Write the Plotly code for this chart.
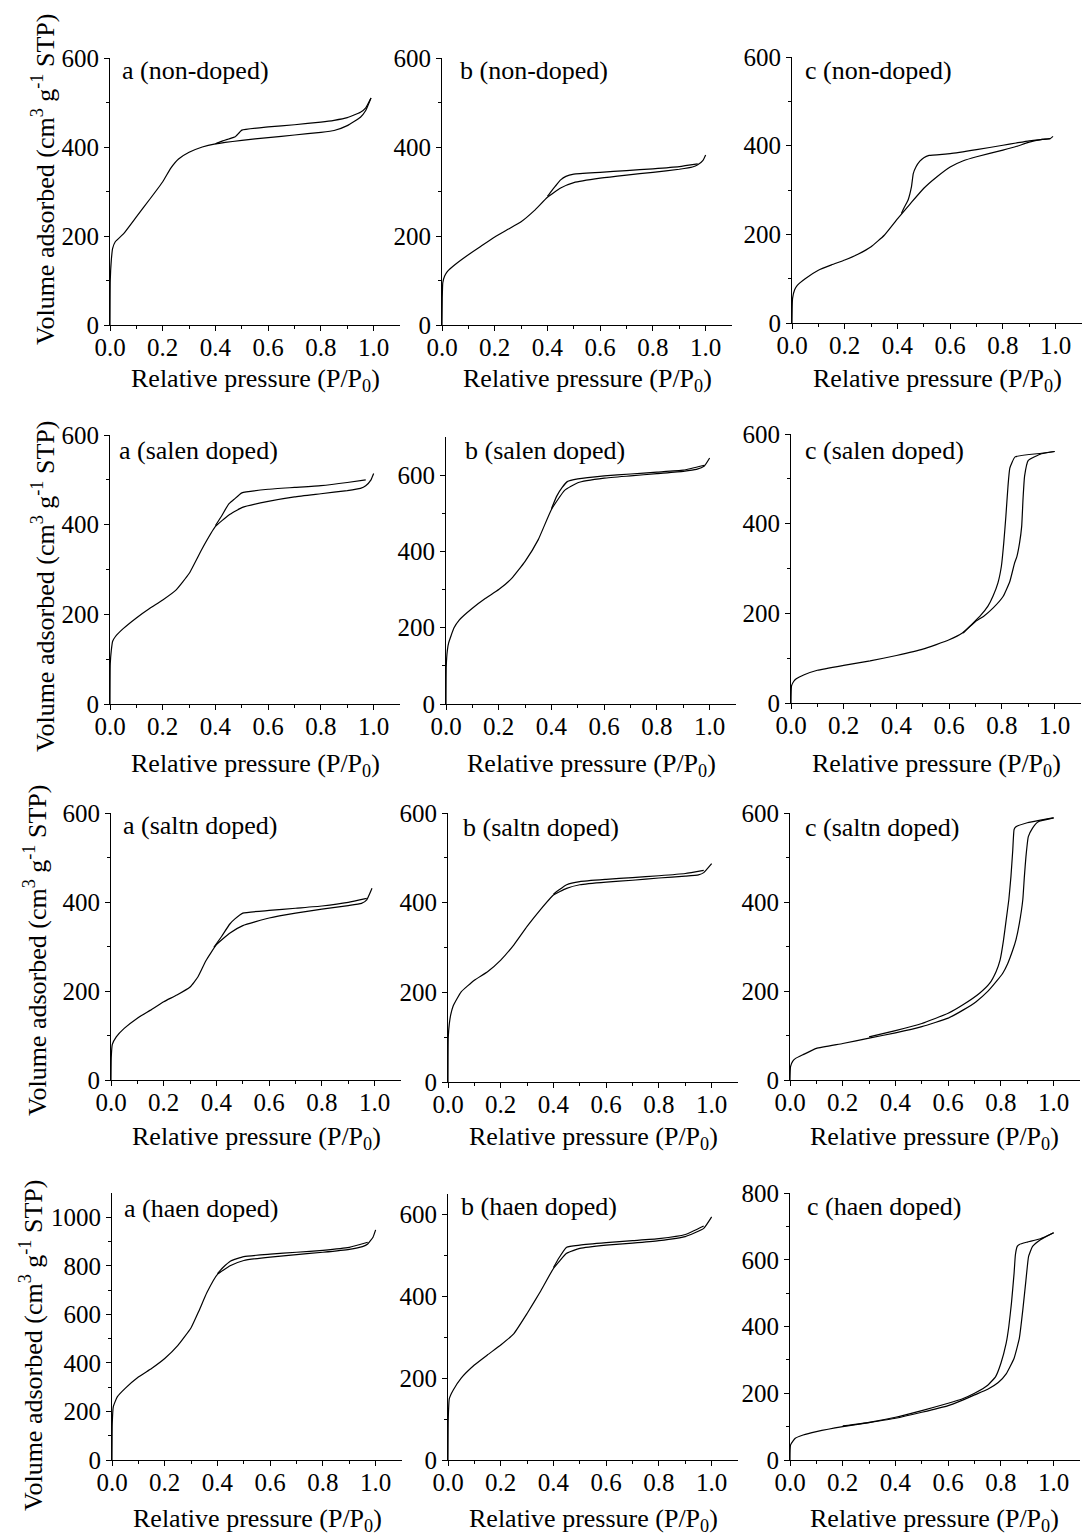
import plotly.graph_objects as go

# ---------------- N2 sorption isotherms (relative pressure vs volume adsorbed) ----------------
# Row 1: non-doped
A_NON_ADS_P = [0, 0.001, 0.005, 0.01, 0.02, 0.05, 0.1, 0.15, 0.2, 0.23, 0.26, 0.3, 0.35, 0.4, 0.5, 0.6, 0.7, 0.8, 0.85, 0.9, 0.95, 0.97, 0.99]
A_NON_ADS_V = [0, 100, 146, 172, 187, 204, 243, 282, 322, 352, 373, 388, 400, 407, 415, 421, 427, 433, 437, 448, 467, 482, 510]
A_NON_DES_P = [0.99, 0.97, 0.95, 0.9, 0.85, 0.8, 0.7, 0.6, 0.5, 0.49, 0.475, 0.45, 0.42, 0.4]
A_NON_DES_V = [510, 488, 478, 466, 460, 456, 450, 445, 438, 432, 423, 418, 412, 407]

B_NON_ADS_P = [0, 0.001, 0.003, 0.01, 0.02, 0.05, 0.1, 0.15, 0.2, 0.25, 0.3, 0.35, 0.4, 0.45, 0.5, 0.6, 0.7, 0.8, 0.9, 0.95, 0.97, 0.99, 1.0]
B_NON_ADS_V = [0, 60, 95, 110, 120, 136, 158, 178, 198, 215, 232, 257, 287, 308, 320, 330, 337, 343, 350, 355, 360, 370, 382]
B_NON_DES_P = [0.97, 0.9, 0.8, 0.7, 0.6, 0.5, 0.47, 0.45, 0.43, 0.41, 0.4]
B_NON_DES_V = [362, 356, 351, 347, 343, 339, 334, 326, 312, 297, 289]

C_NON_ADS_P = [0, 0.002, 0.01, 0.02, 0.05, 0.1, 0.15, 0.2, 0.25, 0.3, 0.35, 0.4, 0.45, 0.5, 0.55, 0.6, 0.65, 0.7, 0.8, 0.85, 0.9, 0.95, 0.98, 0.99]
C_NON_ADS_V = [0, 55, 75, 85, 100, 119, 131, 142, 155, 172, 198, 235, 270, 304, 330, 352, 366, 375, 390, 398, 408, 414, 416, 421]
C_NON_DES_P = [0.98, 0.9, 0.85, 0.8, 0.7, 0.6, 0.52, 0.5, 0.485, 0.47, 0.46, 0.453, 0.44, 0.427, 0.415]
C_NON_DES_V = [416, 411, 406, 401, 391, 382, 378, 373, 365, 352, 337, 307, 277, 262, 247]

# Row 2: salen doped
A_SALEN_ADS_P = [0, 0.001, 0.005, 0.01, 0.02, 0.05, 0.1, 0.15, 0.2, 0.25, 0.3, 0.35, 0.4, 0.45, 0.5, 0.6, 0.7, 0.8, 0.9, 0.95, 0.97, 0.99, 1.0]
A_SALEN_ADS_V = [0, 90, 120, 140, 150, 168, 192, 213, 232, 254, 291, 347, 396, 421, 438, 452, 462, 469, 476, 481, 487, 500, 514]
A_SALEN_DES_P = [0.97, 0.9, 0.8, 0.7, 0.6, 0.5, 0.47, 0.45, 0.425, 0.4]
A_SALEN_DES_V = [500, 494, 487, 483, 479, 471, 456, 446, 421, 398]

B_SALEN_ADS_P = [0, 0.001, 0.005, 0.01, 0.03, 0.05, 0.1, 0.15, 0.2, 0.25, 0.3, 0.35, 0.4, 0.45, 0.5, 0.6, 0.7, 0.8, 0.9, 0.95, 0.98, 1.0]
B_SALEN_ADS_V = [0, 100, 140, 160, 199, 220, 251, 277, 300, 330, 374, 431, 510, 560, 580, 592, 598, 604, 610, 615, 624, 645]
B_SALEN_DES_P = [0.98, 0.9, 0.8, 0.7, 0.6, 0.5, 0.46, 0.44, 0.42, 0.4]
B_SALEN_DES_V = [626, 613, 608, 603, 598, 590, 583, 567, 545, 512]

C_SALEN_ADS_P = [0, 0.002, 0.01, 0.02, 0.05, 0.1, 0.2, 0.3, 0.4, 0.5, 0.6, 0.65, 0.7, 0.73, 0.767, 0.805, 0.83, 0.848, 0.857, 0.867, 0.875, 0.88, 0.886, 0.9, 0.95, 1.0]
C_SALEN_ADS_V = [0, 38, 48, 54, 63, 73, 84, 94, 106, 120, 141, 156, 182, 193, 212, 238, 271, 312, 327, 357, 394, 454, 506, 541, 556, 561]
C_SALEN_DES_P = [1.0, 0.95, 0.85, 0.83, 0.823, 0.815, 0.807, 0.798, 0.785, 0.766, 0.747, 0.716, 0.678, 0.653]
C_SALEN_DES_V = [561, 557, 549, 524, 483, 416, 357, 305, 268, 238, 216, 193, 171, 156]

# Row 3: saltn doped
A_SALTN_ADS_P = [0, 0.001, 0.005, 0.02, 0.05, 0.1, 0.15, 0.2, 0.25, 0.3, 0.33, 0.36, 0.4, 0.45, 0.5, 0.6, 0.7, 0.8, 0.9, 0.95, 0.97, 0.99]
A_SALTN_ADS_V = [0, 50, 80, 97, 116, 139, 157, 176, 191, 209, 232, 268, 304, 330, 347, 364, 375, 384, 392, 397, 405, 431]
A_SALTN_DES_P = [0.97, 0.9, 0.8, 0.7, 0.6, 0.5, 0.47, 0.45, 0.42, 0.39]
A_SALTN_DES_V = [408, 399, 391, 386, 381, 375, 362, 350, 323, 298]

B_SALTN_ADS_P = [0, 0.001, 0.005, 0.01, 0.02, 0.05, 0.1, 0.15, 0.2, 0.25, 0.3, 0.35, 0.4, 0.45, 0.5, 0.6, 0.7, 0.8, 0.9, 0.95, 0.97, 1.0]
B_SALTN_ADS_V = [0, 100, 130, 149, 170, 201, 227, 246, 272, 306, 347, 384, 417, 432, 440, 446, 450, 455, 459, 462, 467, 487]
B_SALTN_DES_P = [0.97, 0.9, 0.8, 0.7, 0.6, 0.5, 0.45, 0.42, 0.4]
B_SALTN_DES_V = [472, 465, 460, 456, 452, 447, 440, 428, 419]

C_SALTN_ADS_P = [0, 0.002, 0.01, 0.02, 0.05, 0.1, 0.2, 0.3, 0.4, 0.5, 0.6, 0.656, 0.706, 0.75, 0.782, 0.807, 0.826, 0.845, 0.857, 0.87, 0.883, 0.889, 0.895, 0.904, 0.92, 0.94, 1.0]
C_SALTN_ADS_V = [0, 30, 42, 48, 57, 71, 82, 94, 106, 120, 139, 157, 176, 199, 221, 240, 262, 292, 315, 352, 405, 457, 502, 547, 566, 580, 589]
C_SALTN_DES_P = [1.0, 0.95, 0.9, 0.857, 0.85, 0.845, 0.838, 0.83, 0.82, 0.81, 0.797, 0.782, 0.757, 0.719, 0.656, 0.6, 0.5, 0.4, 0.3]
C_SALTN_DES_V = [589, 584, 578, 569, 563, 517, 457, 405, 360, 315, 270, 244, 217, 195, 169, 150, 127, 111, 97]

# Row 4: haen doped
A_HAEN_ADS_P = [0, 0.001, 0.005, 0.02, 0.05, 0.1, 0.15, 0.2, 0.25, 0.3, 0.33, 0.36, 0.4, 0.45, 0.5, 0.6, 0.7, 0.8, 0.9, 0.95, 0.97, 0.99, 1.0]
A_HAEN_ADS_V = [0, 150, 220, 260, 295, 342, 377, 418, 472, 545, 615, 690, 765, 801, 822, 836, 846, 856, 868, 879, 890, 918, 948]
A_HAEN_DES_P = [0.97, 0.9, 0.8, 0.7, 0.6, 0.5, 0.45, 0.42, 0.4]
A_HAEN_DES_V = [897, 876, 864, 856, 848, 838, 820, 792, 768]

B_HAEN_ADS_P = [0, 0.001, 0.005, 0.02, 0.05, 0.1, 0.15, 0.2, 0.25, 0.3, 0.35, 0.4, 0.45, 0.5, 0.6, 0.7, 0.8, 0.9, 0.97, 1.0]
B_HAEN_ADS_V = [0, 100, 150, 171, 200, 232, 257, 281, 309, 358, 411, 468, 505, 517, 525, 530, 536, 546, 566, 594]
B_HAEN_DES_P = [0.97, 0.9, 0.8, 0.7, 0.6, 0.5, 0.45, 0.42, 0.4]
B_HAEN_DES_V = [572, 551, 541, 536, 531, 525, 520, 493, 470]

C_HAEN_ADS_P = [0, 0.002, 0.02, 0.05, 0.1, 0.2, 0.3, 0.4, 0.5, 0.6, 0.65, 0.7, 0.75, 0.79, 0.82, 0.85, 0.87, 0.883, 0.895, 0.905, 0.92, 0.95, 1.0]
C_HAEN_ADS_V = [0, 45, 65, 75, 85, 100, 112, 125, 143, 163, 178, 195, 212, 232, 258, 305, 365, 449, 539, 610, 640, 660, 681]
C_HAEN_DES_P = [1.0, 0.95, 0.9, 0.87, 0.862, 0.855, 0.85, 0.84, 0.83, 0.82, 0.8, 0.78, 0.75, 0.7, 0.65, 0.6, 0.5, 0.4, 0.3, 0.2]
C_HAEN_DES_V = [681, 663, 653, 646, 640, 615, 560, 470, 400, 350, 290, 250, 224, 200, 182, 170, 148, 128, 113, 102]

PANEL_LABELS = [
    "a (non-doped)", "b (non-doped)", "c (non-doped)",
    "a (salen doped)", "b (salen doped)", "c (salen doped)",
    "a (saltn doped)", "b (saltn doped)", "c (saltn doped)",
    "a (haen doped)", "b (haen doped)", "c (haen doped)",
]
Y_MAX = [600, 600, 600, 600, 700, 600, 600, 600, 600, 1100, 650, 800]
X_TICKS = [0.0, 0.2, 0.4, 0.6, 0.8, 1.0]
X_TITLE = "Relative pressure (P/P<sub>0</sub>)"
Y_TITLE = "Volume adsorbed (cm<sup>3</sup> g<sup>-1</sup> STP)"

SERIES = [
    (A_NON_ADS_P, A_NON_ADS_V, A_NON_DES_P, A_NON_DES_V),
    (B_NON_ADS_P, B_NON_ADS_V, B_NON_DES_P, B_NON_DES_V),
    (C_NON_ADS_P, C_NON_ADS_V, C_NON_DES_P, C_NON_DES_V),
    (A_SALEN_ADS_P, A_SALEN_ADS_V, A_SALEN_DES_P, A_SALEN_DES_V),
    (B_SALEN_ADS_P, B_SALEN_ADS_V, B_SALEN_DES_P, B_SALEN_DES_V),
    (C_SALEN_ADS_P, C_SALEN_ADS_V, C_SALEN_DES_P, C_SALEN_DES_V),
    (A_SALTN_ADS_P, A_SALTN_ADS_V, A_SALTN_DES_P, A_SALTN_DES_V),
    (B_SALTN_ADS_P, B_SALTN_ADS_V, B_SALTN_DES_P, B_SALTN_DES_V),
    (C_SALTN_ADS_P, C_SALTN_ADS_V, C_SALTN_DES_P, C_SALTN_DES_V),
    (A_HAEN_ADS_P, A_HAEN_ADS_V, A_HAEN_DES_P, A_HAEN_DES_V),
    (B_HAEN_ADS_P, B_HAEN_ADS_V, B_HAEN_DES_P, B_HAEN_DES_V),
    (C_HAEN_ADS_P, C_HAEN_ADS_V, C_HAEN_DES_P, C_HAEN_DES_V),
]

# ---------------- page geometry (pixels) ----------------
W, H = 1082, 1535
FONT = "Liberation Serif"
AX_W = 290  # width of each plot area for P/P0 in [0, 1.1]

# (left edge, pixel row of V=0, pixel row of the axis top)
FRAMES = [
    (110, 325, 58), (442, 325, 58), (792, 323, 57),
    (110, 704, 435), (446, 704, 437), (791, 703, 434),
    (111, 1080, 813), (448, 1082, 813), (790, 1080, 813),
    (112, 1460, 1193), (448, 1460, 1194), (790, 1460, 1193),
]
LABEL_POS = [
    (120, 70), (458, 70), (803, 70),
    (117, 450), (463, 450), (803, 450),
    (121, 826), (461, 827), (803, 827),
    (122, 1208), (459, 1206), (805, 1206),
]
X_TITLE_ROWS = [380, 765, 1138, 1520]
Y_TITLE_POS = [(43, 180), (43, 587), (35, 951), (31, 1346)]


def fx(p):
    return p / W


def fy(p):
    return 1 - p / H


fig = go.Figure()
layout = dict(
    width=W, height=H, autosize=False,
    margin=dict(l=0, r=0, t=0, b=0, pad=0, autoexpand=False),
    paper_bgcolor="white", plot_bgcolor="rgba(0,0,0,0)",
    showlegend=False,
    font=dict(family=FONT, size=24, color="black"),
)
annotations = []

for i, ((left, y0, ytop), ymax, label, series) in enumerate(zip(FRAMES, Y_MAX, PANEL_LABELS, SERIES)):
    n = "" if i == 0 else str(i + 1)
    xname, yname = "x" + n, "y" + n
    axis_common = dict(
        showline=True, linecolor="black", linewidth=1,
        ticks="outside", ticklen=5, tickwidth=1, tickcolor="black",
        showgrid=False, zeroline=False, automargin=False,
        tickfont=dict(family=FONT, size=25, color="black"),
    )
    layout["xaxis" + n] = dict(
        axis_common,
        domain=[fx(left), fx(left + AX_W)], range=[0, 1.1], anchor=yname,
        tickvals=X_TICKS, ticktext=[f"{t:.1f}" for t in X_TICKS],
        ticklabelstandoff=-5,
        minor=dict(tickvals=[0.1, 0.3, 0.5, 0.7, 0.9], ticks="outside", ticklen=3,
                   tickcolor="black", showgrid=False),
    )
    yt = list(range(0, ymax + 1, 200))
    layout["yaxis" + n] = dict(
        axis_common,
        domain=[fy(y0), fy(ytop)], range=[0, ymax], anchor=xname,
        tickvals=yt, ticktext=[str(v) for v in yt],
        minor=dict(tickvals=list(range(100, ymax, 200)), ticks="outside", ticklen=3,
                   tickcolor="black", showgrid=False),
    )
    ads_p, ads_v, des_p, des_v = series
    for px_, vy_ in ((ads_p, ads_v), (des_p, des_v)):
        fig.add_trace(go.Scatter(
            x=px_, y=vy_, mode="lines", xaxis=xname, yaxis=yname,
            line=dict(color="black", width=1.2, shape="spline", smoothing=0.4),
            hoverinfo="skip", cliponaxis=False,
        ))
    lx, ly = LABEL_POS[i]
    annotations.append(dict(
        text=label, xref="paper", yref="paper", x=fx(lx), y=fy(ly),
        xanchor="left", yanchor="middle", showarrow=False,
        font=dict(family=FONT, size=26, color="black"),
    ))
    annotations.append(dict(
        text=X_TITLE, xref="paper", yref="paper",
        x=fx(left + AX_W / 2), y=fy(X_TITLE_ROWS[i // 3]),
        xanchor="center", yanchor="middle", showarrow=False,
        font=dict(family=FONT, size=26, color="black"),
    ))

for tx, ty in Y_TITLE_POS:
    annotations.append(dict(
        text=Y_TITLE, xref="paper", yref="paper", x=fx(tx), y=fy(ty),
        xanchor="center", yanchor="middle", textangle=-90, showarrow=False,
        font=dict(family=FONT, size=26, color="black"),
    ))

layout["annotations"] = annotations
fig.update_layout(**layout)
fig.write_html(
    "out.html",
    config={"displayModeBar": False, "responsive": False},
    post_script="document.body.style.margin='0';document.body.style.overflow='hidden';",
)
